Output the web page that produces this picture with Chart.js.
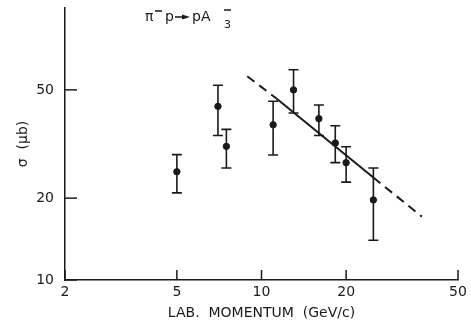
<!DOCTYPE html>
<html>
<head>
<meta charset="utf-8">
<script src="https://cdn.jsdelivr.net/npm/chart.js@4.4.1/dist/chart.umd.min.js"></script>
<style>
  html, body { margin: 0; padding: 0; background: #fff; }
  #wrap { width: 471px; height: 322px; }
</style>
</head>
<body>
<div id="wrap"><canvas id="sigmaChart"></canvas></div>
<script>
// measured points (GeV/c, microbarn)
const momentum = [5, 7, 7.5, 11, 13, 16, 18.3, 20, 25];
const sigma = [25, 43.5, 31, 37.2, 50, 39.2, 31.9, 27, 19.7];
const sigmaHigh = [28.9, 52, 35.8, 45.4, 59.3, 44, 36.9, 30.9, 25.8];
const sigmaLow = [20.9, 34, 25.8, 28.8, 41.1, 34, 27, 22.9, 14];

// fitted line: dashed - solid - dashed
const fitMomentum = [8.9, 11.3, 25, 37.2];
const fitSigma = [56.1, 46.5, 23.8, 17.1];

const xTicks = [2, 5, 10, 20, 50];
const yTicks = [10, 20, 50];

const ink = '#1a1a1a';
const labelFont = { family: 'DejaVu Sans', size: 14 };

const pts = (xs, ys) => xs.map((x, i) => ({ x: x, y: ys[i] }));

// inward tick marks, error bars and the reaction label
const extras = {
  id: 'extras',
  afterDatasetsDraw(chart) {
    const { ctx, scales: { x, y } } = chart;
    ctx.save();
    ctx.strokeStyle = ink;
    ctx.fillStyle = ink;

    // ticks pointing into the plot
    ctx.lineWidth = 1.5;
    xTicks.forEach(v => {
      const px = x.getPixelForValue(v);
      ctx.beginPath();
      ctx.moveTo(px, y.bottom);
      ctx.lineTo(px, y.bottom - 10);
      ctx.stroke();
    });
    yTicks.forEach(v => {
      const py = y.getPixelForValue(v);
      ctx.beginPath();
      ctx.moveTo(x.left, py);
      ctx.lineTo(x.left + 12, py);
      ctx.stroke();
    });

    // error bars
    ctx.lineWidth = 1.6;
    momentum.forEach((m, i) => {
      const px = x.getPixelForValue(m);
      const top = y.getPixelForValue(sigmaHigh[i]);
      const bot = y.getPixelForValue(sigmaLow[i]);
      ctx.beginPath();
      ctx.moveTo(px, top); ctx.lineTo(px, bot);
      ctx.moveTo(px - 5, top); ctx.lineTo(px + 5, top);
      ctx.moveTo(px - 5, bot); ctx.lineTo(px + 5, bot);
      ctx.stroke();
    });

    // reaction label
    ctx.font = '14px "DejaVu Sans"';
    ctx.textBaseline = 'alphabetic';
    ctx.textAlign = 'left';
    ctx.fillText('\u03c0', 145, 21);
    ctx.fillText('p', 165, 21);
    ctx.fillText('pA', 192, 21);
    ctx.font = '11px "DejaVu Sans"';
    ctx.fillText('3', 224, 28);
    ctx.lineWidth = 1.3;
    ctx.beginPath();
    ctx.moveTo(155, 11); ctx.lineTo(162, 11);
    ctx.moveTo(224, 10); ctx.lineTo(231, 10);
    ctx.moveTo(175, 17); ctx.lineTo(184, 17);
    ctx.stroke();
    ctx.beginPath();
    ctx.moveTo(190, 17); ctx.lineTo(182, 14.5); ctx.lineTo(182, 19.5);
    ctx.closePath();
    ctx.fill();
    ctx.restore();
  }
};

new Chart(document.getElementById('sigmaChart'), {
  type: 'scatter',
  data: {
    datasets: [
      {
        data: pts(momentum, sigma),
        backgroundColor: ink,
        borderColor: ink,
        pointRadius: 3.2,
        order: 0
      },
      {
        data: pts(fitMomentum.slice(0, 2), fitSigma.slice(0, 2)),
        showLine: true,
        borderColor: ink,
        borderWidth: 2,
        borderDash: [9, 6],
        pointRadius: 0
      },
      {
        data: pts(fitMomentum.slice(1, 3), fitSigma.slice(1, 3)),
        showLine: true,
        borderColor: ink,
        borderWidth: 2,
        pointRadius: 0
      },
      {
        data: pts(fitMomentum.slice(2, 4), fitSigma.slice(2, 4)),
        showLine: true,
        borderColor: ink,
        borderWidth: 2,
        borderDash: [9, 6],
        pointRadius: 0
      }
    ]
  },
  options: {
    responsive: true,
    maintainAspectRatio: false,
    animation: false,
    layout: { padding: { top: 0, right: 13, left: 0, bottom: 0 } },
    plugins: {
      legend: { display: false },
      tooltip: { enabled: false }
    },
    scales: {
      x: {
        type: 'logarithmic',
        min: 2,
        max: 50,
        afterBuildTicks: s => { s.ticks = xTicks.map(v => ({ value: v })); },
        afterFit: s => { s.height = 42; },
        grid: { display: false, drawTicks: false },
        border: { color: ink, width: 1.5 },
        ticks: {
          color: ink, font: labelFont, padding: 4,
          maxRotation: 0, autoSkip: false,
          callback: v => String(v)
        },
        title: {
          display: true,
          text: 'LAB.  MOMENTUM  (GeV/c)',
          color: ink, font: labelFont,
          padding: { top: 0, bottom: 0 }
        }
      },
      y: {
        type: 'logarithmic',
        min: 10,
        max: 100,
        afterBuildTicks: s => { s.ticks = yTicks.map(v => ({ value: v })); },
        afterFit: s => { s.width = 65; s.paddingTop = 8; s.paddingBottom = 0; },
        grid: { display: false, drawTicks: false },
        border: { color: ink, width: 1.5 },
        ticks: {
          color: ink, font: labelFont, padding: 11,
          callback: v => String(v)
        },
        title: {
          display: true,
          text: '\u03c3  (\u03bcb)',
          color: ink, font: labelFont,
          padding: { top: 15, bottom: 0 }
        }
      }
    }
  },
  plugins: [extras]
});
</script>
</body>
</html>
